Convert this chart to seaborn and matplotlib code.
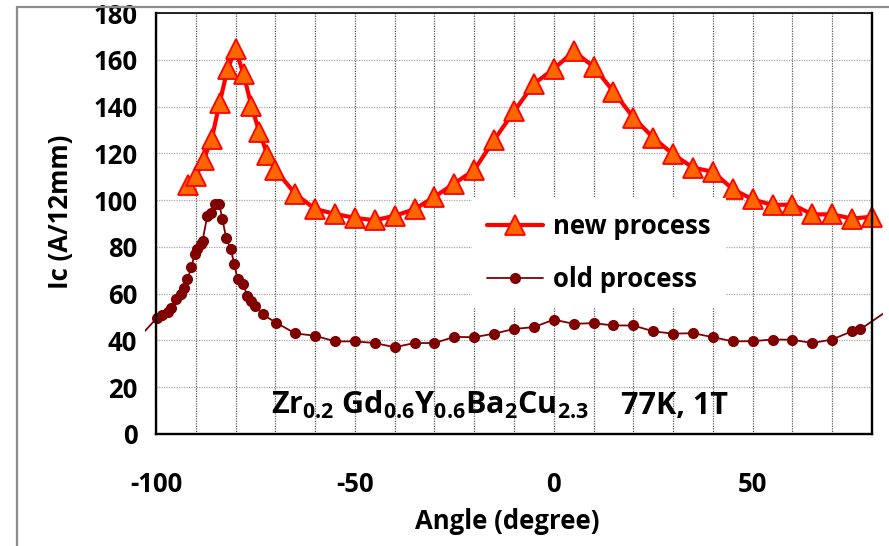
import matplotlib
matplotlib.use("Agg")
import matplotlib.pyplot as plt
import numpy as np
import pandas as pd
import seaborn as sns
from matplotlib.patches import Rectangle
from matplotlib.ticker import MultipleLocator

# Critical current vs. field angle, 77 K, 1 T
new_angle = [-92, -90, -88, -86, -84, -82, -80, -78, -76, -74, -72, -70,
             -65, -60, -55, -50, -45, -40, -35, -30, -25, -20,
             -15, -10, -5, 0, 5, 10, 15, 20, 25, 30,
             35, 40, 45, 50, 55, 60, 65, 70, 75, 80]
new_ic = [106.6, 110.1, 117.3, 126.1, 141.6, 156.1, 164.4, 154.0, 140.1, 129.0, 119.4, 113.0,
          102.7, 96.2, 94.1, 92.4, 91.4, 93.3, 96.1, 101.4, 107.1, 112.9,
          125.7, 137.9, 149.7, 156.1, 163.6, 157.1, 146.4, 135.3, 126.7, 119.6,
          113.9, 112.1, 104.7, 100.3, 97.9, 98.1, 93.9, 93.9, 92.1, 92.9]

old_angle = [-105, -99.7, -98.4, -97.1, -96.3, -94.9, -93.8, -92.9, -92.1, -91.1,
             -90.3, -89.6, -88.7, -88.3, -87.1, -86.2, -85.1, -84.1, -83.3, -82.4,
             -81.2, -80.3, -79.5, -78.1, -77.0, -76.1, -75.0, -73.2, -69.8,
             -65, -60, -55, -50, -45, -40, -35, -30, -25, -20, -15, -10, -5,
             0, 5, 10, 15, 20, 25, 30, 35, 40, 45, 50, 55, 60, 65, 70, 75, 77, 85]
old_ic = [40.0, 49.7, 50.9, 52.3, 53.7, 57.6, 59.7, 62.6, 66.1, 71.4,
          76.9, 79.0, 81.1, 82.6, 93.3, 94.7, 98.3, 98.3, 91.9, 84.0,
          79.0, 72.6, 66.1, 64.0, 59.0, 56.9, 54.7, 51.1, 47.6,
          43.0, 42.0, 39.6, 39.6, 38.9, 37.1, 38.9, 38.9, 41.5, 41.4, 42.9, 44.9, 45.7,
          48.9, 47.1, 47.4, 46.4, 46.4, 43.9, 42.9, 43.1, 41.4, 39.6, 39.7, 40.4, 40.3,
          38.9, 40.4, 44.0, 44.7, 54.0]

series_labels = ["new process", "old process"]
x_ticks = [-100, -50, 0, 50]
y_ticks = [0, 20, 40, 60, 80, 100, 120, 140, 160, 180]

sns.set_theme(style="white")
FONT = "Open Sans"
plt.rcParams["font.family"] = [FONT, "DejaVu Sans"]
plt.rcParams["font.weight"] = "bold"
plt.rcParams["axes.unicode_minus"] = False
plt.rcParams["mathtext.fontset"] = "custom"
plt.rcParams["mathtext.rm"] = FONT + ":bold"
plt.rcParams["mathtext.it"] = FONT + ":bold"
plt.rcParams["mathtext.bf"] = FONT + ":bold"

FS = 18.5
FS_NOTE = 22
W, H = 889, 546
fig = plt.figure(figsize=(W / 100, H / 100), dpi=100)
fig.patch.set_facecolor("white")
ax = fig.add_axes([156 / W, (H - 434) / H, (872 - 156) / W, (434 - 13) / H])

# outer chart-area border (only top and left edges fall on the canvas)
fig.patches.append(Rectangle((16.5 / W, -0.1), 1.2, 1.1 - 6.5 / H,
                             transform=fig.transFigure, fill=False,
                             edgecolor="#8c8c8c", lw=1.6))

new_df = pd.DataFrame({"Angle": new_angle, "Ic": new_ic})
old_df = pd.DataFrame({"Angle": old_angle, "Ic": old_ic})

sns.lineplot(data=old_df, x="Angle", y="Ic", ax=ax, color="#800000", lw=1.3,
             marker="o", markersize=8, markeredgewidth=0,
             markeredgecolor="#800000", estimator=None, sort=False,
             label=series_labels[1], legend=False)
sns.lineplot(data=new_df, x="Angle", y="Ic", ax=ax, color="#ff0000", lw=3.0,
             marker="^", markersize=14, markerfacecolor="#ff6600",
             markeredgecolor="#ff0000", markeredgewidth=1.3,
             estimator=None, sort=False, label=series_labels[0], legend=False)

old_line, new_line = ax.lines[0], ax.lines[1]
new_line.set_clip_on(False)
# the thin series may run a little past the plot frame, like the plot area of the sheet
clip_box = Rectangle((-0.015, -0.05), 1.03, 1.1, transform=ax.transAxes,
                     facecolor="none", edgecolor="none")
ax.add_patch(clip_box)
old_line.set_clip_path(clip_box)

ax.set_xlim(-100, 80)
ax.set_ylim(0, 180)
ax.set_xticks(x_ticks)
ax.set_yticks(y_ticks)
ax.xaxis.set_minor_locator(MultipleLocator(10))

ax.set_axisbelow(True)
ax.grid(False)
ax.xaxis.grid(True, which="both", color="#5a5a5a", linestyle=(0, (1, 1)), lw=0.9)
ax.yaxis.grid(True, which="major", color="#a8a8a8", linestyle=(0, (1, 1)), lw=0.9)

ax.tick_params(axis="both", which="major", direction="out", length=7.5, width=1.5,
               color="black", labelsize=FS, labelcolor="black")
ax.tick_params(axis="x", which="major", pad=19)
ax.tick_params(axis="y", which="major", pad=6)
ax.tick_params(axis="x", which="minor", length=0)
for lab in ax.get_xticklabels() + ax.get_yticklabels():
    lab.set_fontweight("bold")

for side in ["left", "bottom", "right"]:
    ax.spines[side].set_color("black")
    ax.spines[side].set_linewidth(1.7)
ax.spines["top"].set_color("black")
ax.spines["top"].set_linewidth(1.2)

ax.set_xlabel("Angle (degree)", fontsize=FS, fontweight="bold", color="black")
ax.set_ylabel("Ic (A/12mm)", fontsize=FS, fontweight="bold", color="black")
ax.xaxis.set_label_coords((507 - 156) / 716, (434 - 508) / 421)
ax.yaxis.label.set_va("center")
ax.yaxis.set_label_coords((60 - 156) / 716, (434 - 212) / 421)

ax.text(-71, 8.5, r"Zr$_{0.2}$ Gd$_{0.6}$Y$_{0.6}$Ba$_{2}$Cu$_{2.3}$",
        fontsize=FS_NOTE, fontweight="bold", color="black", va="baseline")
ax.text(17, 8.5, "77K, 1T", fontsize=FS_NOTE, fontweight="bold", color="black",
        va="baseline")

leg = ax.legend(handles=[new_line, old_line], labels=series_labels,
                loc="upper left", bbox_to_anchor=((472 - 156) / 716, (434 - 198) / 421),
                borderaxespad=0, frameon=True, fancybox=False, framealpha=1,
                facecolor="white", edgecolor="none", handlelength=2.15,
                handletextpad=0.4, labelspacing=0.98, borderpad=0.6,
                prop={"weight": "bold", "size": FS})
for t in leg.get_texts():
    t.set_color("black")

fig.savefig("out.png", dpi=100, facecolor="white")
